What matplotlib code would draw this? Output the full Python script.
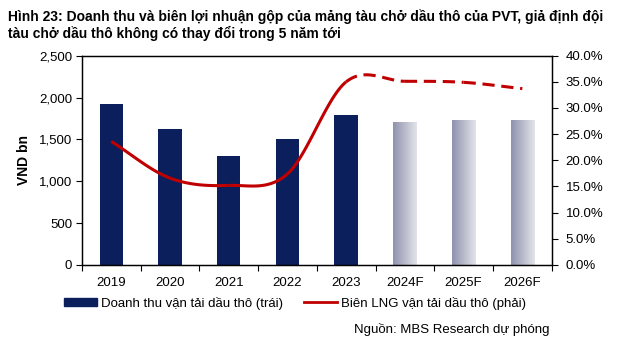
import numpy as np
import matplotlib.pyplot as plt
from matplotlib.patches import Patch
from matplotlib.lines import Line2D
from matplotlib.colors import LinearSegmentedColormap

plt.rcParams['font.family'] = ['Liberation Sans', 'DejaVu Sans']

# ── DATA ──
years = ['2019', '2020', '2021', '2022', '2023', '2024F', '2025F', '2026F']
revenue = [1920, 1620, 1300, 1510, 1790, 1705, 1725, 1725]   # VND bn (left)
margin = [23.6, 16.6, 15.2, 17.4, 35.0, 35.1, 34.9, 33.7]     # % (right)
n_actual = 5   # 2019-2023 actual, rest forecast

title = ('Hình 23: Doanh thu và biên lợi nhuận gộp của mảng tàu chở dầu thô của PVT, giả định đội\n'
         'tàu chở dầu thô không có thay đổi trong 5 năm tới')
bar_label = 'Doanh thu vận tải dầu thô (trái)'
line_label = 'Biên LNG vận tải dầu thô (phải)'
source = 'Nguồn: MBS Research dự phóng'

navy = '#0a1f5c'
red = '#c00000'


def smooth(xs, ys, sx, sy, steps=40):
    # Catmull-Rom through the points (like Excel's smoothed line), done in screen-ish units
    px = np.asarray(xs, float) * sx
    py = np.asarray(ys, float) * sy
    px = np.concatenate([[2 * px[0] - px[1]], px, [2 * px[-1] - px[-2]]])
    py = np.concatenate([[2 * py[0] - py[1]], py, [2 * py[-1] - py[-2]]])
    segs = []
    for i in range(1, len(px) - 2):
        t = np.linspace(0, 1, steps)
        def cr(p):
            p0, p1, p2, p3 = p[i - 1], p[i], p[i + 1], p[i + 2]
            return 0.5 * (2 * p1 + (-p0 + p2) * t + (2 * p0 - 5 * p1 + 4 * p2 - p3) * t ** 2
                          + (-p0 + 3 * p1 - 3 * p2 + p3) * t ** 3)
        segs.append((cr(px) / sx, cr(py) / sy))
    return segs


fig = plt.figure(figsize=(6.4, 3.5), dpi=100)
ax = fig.add_axes([0.128, 0.243, 0.734, 0.598])
ax2 = ax.twinx()

x = np.arange(len(years))
w = 0.4
ax.bar(x[:n_actual], revenue[:n_actual], width=w, color=navy, zorder=2)

# forecast bars: grey gradient, dark on the left
grad = np.linspace(0, 1, 64).reshape(1, -1)
cmap = LinearSegmentedColormap.from_list('fc', ['#8f92ad', '#e3e4ea'])
for xi, v in zip(x[n_actual:], revenue[n_actual:]):
    ax.imshow(grad, extent=[xi - w / 2, xi + w / 2, 0, v], aspect='auto',
              cmap=cmap, zorder=2)

ax.set_xlim(-0.5, len(years) - 0.5)
ax.set_ylim(0, 2500)
ax.set_yticks(range(0, 2501, 500))
ax.set_yticklabels([f'{v:,}' for v in range(0, 2501, 500)])
ax.set_xticks(np.arange(-0.5, len(years), 1))
ax.set_xticklabels([])
ax.set_xticks(x, minor=True)
ax.set_xticklabels(years, minor=True)
ax.tick_params(axis='x', which='minor', length=0, pad=9, labelsize=9.5)
ax.tick_params(axis='x', which='major', length=4, direction='out')
ax.tick_params(axis='y', length=4, labelsize=9.5, pad=3)
ax.set_ylabel('VND bn', fontweight='bold', fontsize=10, labelpad=6)

ax2.set_ylim(0, 40)
ax2.set_yticks(range(0, 41, 5))
ax2.set_yticklabels([f'{v:.1f}%' for v in range(0, 41, 5)])
ax2.tick_params(axis='y', length=4, labelsize=9.5, pad=6)

segs = smooth(x, margin, 58.6, 5.25)
for i, (sx_, sy_) in enumerate(segs):
    ls = '-' if i < n_actual - 1 else (0, (4, 2.2))
    ax2.plot(sx_, sy_, color=red, lw=2.2, linestyle=ls, solid_capstyle='butt',
             dash_capstyle='butt')

for a in (ax, ax2):
    for s in a.spines.values():
        s.set_linewidth(0.9)

fig.text(0.013, 0.975, title, fontsize=10, fontweight='bold', va='top',
         ha='left', linespacing=1.2)

handles = [Patch(color=navy, label=bar_label),
           Line2D([0], [0], color=red, lw=2, label=line_label)]
fig.legend(handles=handles, loc='center left', bbox_to_anchor=(0.1, 1 - 303 / 350),
           ncol=2, frameon=False, fontsize=9.5, handlelength=2.5, handleheight=0.5,
           handletextpad=0.3, columnspacing=1.6, borderaxespad=0, borderpad=0)

fig.text(550 / 640, 1 - 329 / 350, source, fontsize=9.5, ha='right', va='center')

fig.savefig('out.png', dpi=100)
